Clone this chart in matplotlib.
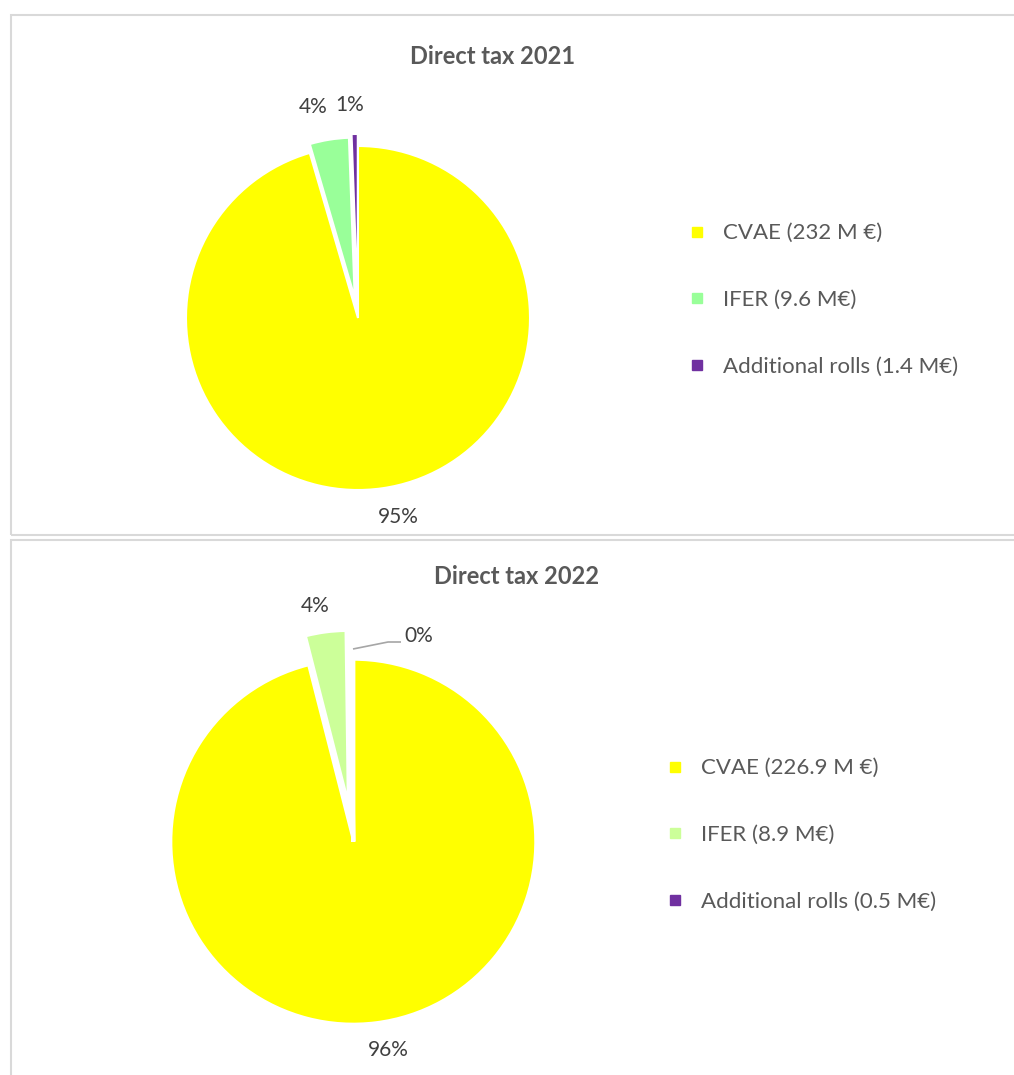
import matplotlib
matplotlib.use("Agg")
import matplotlib.pyplot as plt
from matplotlib.patches import Rectangle
from matplotlib.lines import Line2D

plt.rcParams['font.family'] = ['Lato', 'DejaVu Sans']

# ---- data ----
categories = ["CVAE", "IFER", "Additional rolls"]
values_2021 = [232.0, 9.6, 1.4]
values_2022 = [226.9, 8.9, 0.5]
legend_2021 = ["CVAE (232 M €)", "IFER (9.6 M€)", "Additional rolls (1.4 M€)"]
legend_2022 = ["CVAE (226.9 M €)", "IFER (8.9 M€)", "Additional rolls (0.5 M€)"]
titles = ["Direct tax 2021", "Direct tax 2022"]
colors_2021 = ["#FFFF00", "#99FF99", "#7030A0"]
colors_2022 = ["#FFFF00", "#CCFF99", "#7030A0"]

W, H = 1014, 1075
TXT = "#595959"
fig = plt.figure(figsize=(W / 100, H / 100), dpi=100)

# panel borders (pixel coords from top-left)
def px_rect(x0, y0, x1, y1):
    r = Rectangle((x0 / W, 1 - y1 / H), (x1 - x0) / W, (y1 - y0) / H,
                  transform=fig.transFigure, fill=False, edgecolor="#D9D9D9",
                  linewidth=1.5)
    fig.add_artist(r)

px_rect(11, 15, 1030, 535)
px_rect(11, 540, 1030, 1090)


def make_pie(cx, cy, R, lim, values, colors, explode, green_r, label_pos,
             title, title_xy, leg_labels, leg_x, leg_cy, leader=None,
             hide_small=False):
    ax = fig.add_axes([(cx - lim * R) / W, (H - cy - lim * R) / H,
                       2 * lim * R / W, 2 * lim * R / H])
    wedges, _ = ax.pie(values, colors=colors, startangle=90, counterclock=False,
                       explode=explode, radius=1.0,
                       wedgeprops=dict(edgecolor="white", linewidth=1.5))
    wedges[1].set_radius(green_r)
    if hide_small:
        wedges[2].set_linewidth(3)
    ax.set_xlim(-lim, lim)
    ax.set_ylim(-lim, lim)
    ax.set_aspect("equal")
    ax.axis("off")
    total = sum(values)
    for v, (lx, ly) in zip(values, label_pos):
        pct = int(round(100 * v / total))
        ax.text((lx - cx) / R, (cy - ly) / R, f"{pct}%", ha="center",
                va="center", fontsize=15, color="#404040")
    if leader is not None:
        xs = [(p[0] - cx) / R for p in leader]
        ys = [(cy - p[1]) / R for p in leader]
        ax.plot(xs, ys, color="#A6A6A6", linewidth=1.2, solid_capstyle="butt")
    fig.text(title_xy[0] / W, 1 - title_xy[1] / H, title, ha="center",
             va="center", fontsize=17, fontweight="bold", color=TXT)
    handles = [Line2D([], [], linestyle="none", marker="s", markersize=6.5,
                      markerfacecolor=c, markeredgecolor=c) for c in colors]
    hl = 0.6
    fs = 16
    fpx = fs * 100 / 72
    fig.legend(handles, leg_labels, loc="center left",
               bbox_to_anchor=((leg_x - hl * fpx / 2) / W, 1 - leg_cy / H),
               frameon=False, fontsize=fs, labelspacing=2.1,
               handlelength=hl, handletextpad=(26 - hl * fpx / 2) / fpx,
               borderpad=0, borderaxespad=0, labelcolor=TXT)
    return ax


make_pie(358, 318, 172, 1.3, values_2021, colors_2021,
         explode=[0, 0.12, 0.07], green_r=0.93,
         label_pos=[(398, 517), (313, 107), (350, 105)],
         title=titles[0], title_xy=(493, 56),
         leg_labels=legend_2021, leg_x=697, leg_cy=300)

make_pie(353.3, 841.7, 182, 1.32, values_2022, colors_2022,
         explode=[0, 0.23, 0.0], green_r=0.93,
         label_pos=[(388, 1050), (315, 606), (419, 636)],
         title=titles[1], title_xy=(517, 577),
         leg_labels=legend_2022, leg_x=675, leg_cy=835,
         leader=[(353, 649), (388, 642), (401, 642)], hide_small=True)

fig.savefig("out.png", dpi=100, facecolor="white")
